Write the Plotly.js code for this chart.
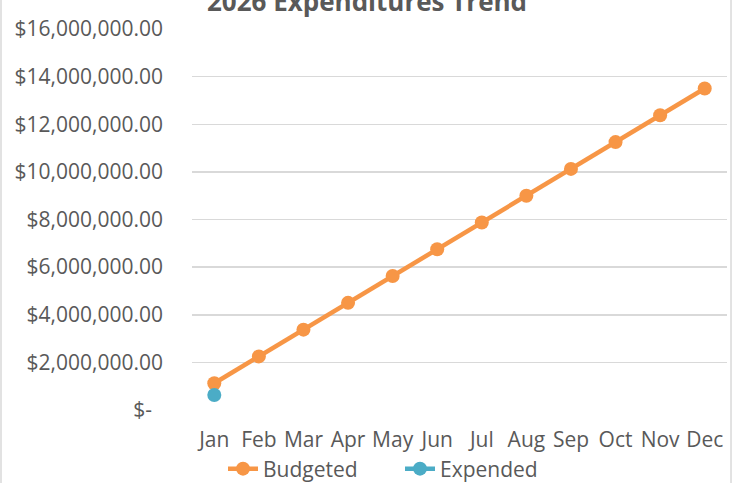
<!DOCTYPE html>
<html>
<head>
<meta charset="utf-8">
<script src="https://cdn.plot.ly/plotly-3.0.1.min.js"></script>
<style>html,body{margin:0;padding:0;background:#fff;}#chart{width:740px;height:483px;}</style>
</head>
<body>
<div id="chart"></div>
<script>
const months = ["Jan","Feb","Mar","Apr","May","Jun","Jul","Aug","Sep","Oct","Nov","Dec"];
const budgeted = [1125000,2250000,3375000,4500000,5625000,6750000,7875000,9000000,10125000,11250000,12375000,13500000];
const expended = [630000];
const expendedMonths = ["Jan"];
const yTickVals = [0,2000000,4000000,6000000,8000000,10000000,12000000,14000000,16000000];
const yTickText = ["$-\u00a0\u00a0","$2,000,000.00","$4,000,000.00","$6,000,000.00","$8,000,000.00","$10,000,000.00","$12,000,000.00","$14,000,000.00","$16,000,000.00"];

const font = "Open Sans, Noto Sans, sans-serif";
const grey = "#595959";

const traces = [
  {x: months, y: budgeted, name: "Budgeted", type: "scatter", mode: "lines+markers",
   line: {color: "#F79646", width: 4.5}, marker: {color: "#F79646", size: 14}},
  {x: expendedMonths, y: expended, name: "Expended", type: "scatter", mode: "lines+markers",
   line: {color: "#4BACC6", width: 4.5}, marker: {color: "#4BACC6", size: 14}}
];

const layout = {
  width: 740, height: 483,
  margin: {l: 192, r: 13, t: 29, b: 73},
  paper_bgcolor: "#fff", plot_bgcolor: "#fff",
  font: {family: font, color: grey, size: 21},
  title: {text: "<b>2026 Expenditures Trend</b>", font: {family: font, size: 26, color: grey},
          x: 367/740, xref: "container", xanchor: "center", y: 1 - 2/483, yref: "container", yanchor: "middle"},
  xaxis: {type: "category", range: [-0.5, 11.5], showgrid: false, zeroline: false, showline: false, ticks: "",
          tickfont: {family: font, size: 21, color: grey}, ticklabelstandoff: 15, fixedrange: true},
  yaxis: {range: [0, 16000000], tickvals: yTickVals, ticktext: yTickText, showgrid: true,
          gridcolor: "#D9D9D9", gridwidth: 1.5, zeroline: false, showline: false, ticks: "",
          tickfont: {family: font, size: 21, color: grey}, ticklabelstandoff: 28, fixedrange: true},
  showlegend: true,
  legend: {orientation: "h", xref: "container", x: 223/740, xanchor: "left", yref: "container", y: 14/483, yanchor: "middle",
           font: {family: font, size: 21, color: grey}, entrywidth: 132, traceorder: "normal",
           bgcolor: "rgba(0,0,0,0)"},
  shapes: [{type: "rect", xref: "paper", yref: "paper", x0: -0.357, x1: 1.0075, y0: -0.5, y1: 1.5,
            line: {color: "#D9D9D9", width: 1.5}, fillcolor: "rgba(0,0,0,0)", layer: "below"}]
};

Plotly.newPlot("chart", traces, layout, {displayModeBar: false, staticPlot: true});
</script>
</body>
</html>
